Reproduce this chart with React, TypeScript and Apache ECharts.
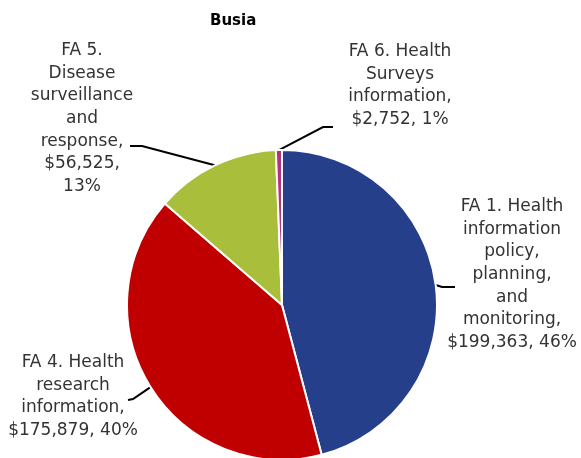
import React, { useEffect, useRef } from "react";
import * as echarts from "echarts";

const titleText = "Busia";
const categories = [
  "FA 1. Health\ninformation\npolicy,\nplanning,\nand\nmonitoring",
  "FA 4. Health\nresearch\ninformation",
  "FA 5.\nDisease\nsurveillance\nand\nresponse",
  "FA 6. Health\nSurveys\ninformation",
];
const values = [199363, 175879, 56525, 2752];
const colors = ["#253F8A", "#C00000", "#A9BF3B", "#B4317D"];
// separator between value and percent in each label
const valuePercentSep = ["\u00a0", "\u00a0", "\n", "\u00a0"];

// label block centres and leader line bends (layout only)
const labelPos = [
  { x: 512, y: 273, bend: [[442, 287], [455, 287]] },
  { x: 73, y: 395, bend: [[133, 399], [128, 400]] },
  { x: 82, y: 117, bend: [[142, 146], [130, 146]] },
  { x: 400, y: 84, bend: [[323, 127], [333, 127]] },
];

export default function App() {
  const ref = useRef<HTMLDivElement>(null);
  useEffect(() => {
    if (!ref.current) return;
    const chart = echarts.init(ref.current, undefined, { renderer: "svg" });
    const font = "'DejaVu Sans', sans-serif";
    chart.setOption({
      animation: false,
      title: {
        text: titleText,
        left: 205,
        top: 7,
        textStyle: { fontFamily: font, fontSize: 15, fontWeight: "bold", color: "#000" },
      },
      series: [
        {
          type: "pie",
          center: [282, 305],
          radius: 155,
          startAngle: 90,
          clockwise: true,
          avoidLabelOverlap: false,
          data: categories.map((name, i) => ({
            name,
            value: values[i],
            itemStyle: { color: colors[i] },
          })),
          itemStyle: { borderColor: "#fff", borderWidth: 2 },
          label: {
            show: true,
            position: "outside",
            fontFamily: font,
            fontSize: 17,
            lineHeight: 22.7,
            color: "#333",
            align: "center",
            formatter: (p: any) =>
              `${p.name},\n$${Number(p.value).toLocaleString("en-US")},${valuePercentSep[p.dataIndex]}${Math.round(p.percent)}%`,
          },
          labelLine: {
            show: true,
            lineStyle: { color: "#000", width: 2 },
          },
          labelLayout: (params: any) => {
            const lp = labelPos[params.dataIndex];
            const start = params.labelLinePoints ? params.labelLinePoints[0] : lp.bend[0];
            return {
              x: lp.x,
              y: lp.y,
              align: "center",
              verticalAlign: "middle",
              labelLinePoints: [start, lp.bend[0], lp.bend[1]],
            };
          },
        },
      ],
    });
    return () => chart.dispose();
  }, []);
  return (
    <div
      ref={ref}
      style={{ position: "fixed", left: 0, top: 0, width: 581, height: 458 }}
    />
  );
}
